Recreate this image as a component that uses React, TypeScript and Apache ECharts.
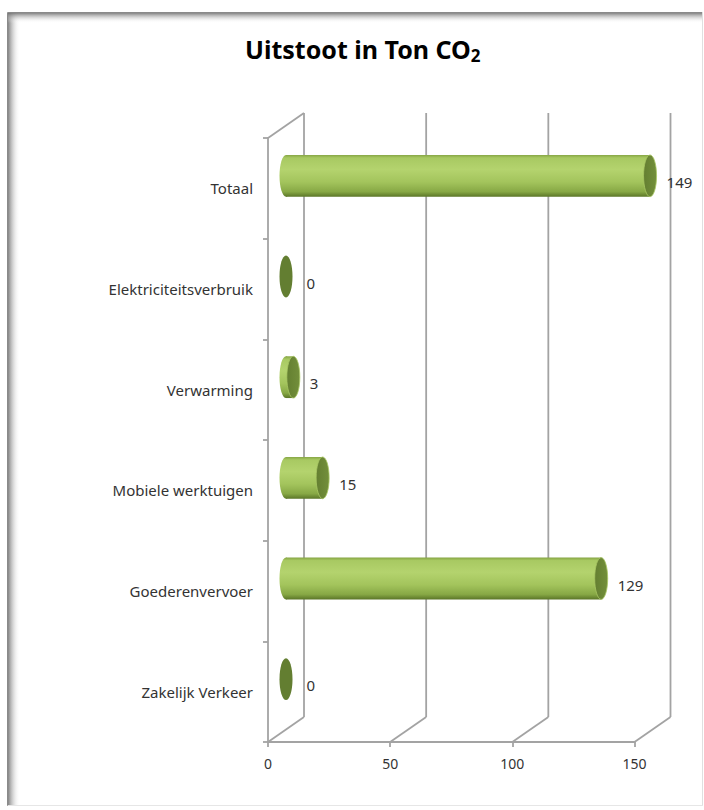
import React, { useEffect, useRef } from "react";
import * as echarts from "echarts";

const categories = [
  "Zakelijk Verkeer",
  "Goederenvervoer",
  "Mobiele werktuigen",
  "Verwarming",
  "Elektriciteitsverbruik",
  "Totaal",
];
const values = [0, 129, 15, 3, 0, 149];
const xTicks = [0, 50, 100, 150];
const titleMain = "Uitstoot in Ton CO";
const titleSub = "2";

const DEPTH_X = 36;
const DEPTH_Y = -25;
const LINE = "#a3a3a3";
const LW = 1.8;
const FONT = "'Noto Sans', 'Open Sans', sans-serif";

export default function App() {
  const ref = useRef<HTMLDivElement>(null);
  useEffect(() => {
    if (!ref.current) return;
    const chart = echarts.init(ref.current, null, { renderer: "svg" });

    const bodyGrad = () =>
      new echarts.graphic.LinearGradient(0, 0, 0, 1, [
        { offset: 0, color: "#86a544" },
        { offset: 0.07, color: "#a8c962" },
        { offset: 0.35, color: "#b4d36e" },
        { offset: 0.65, color: "#a3c45c" },
        { offset: 0.88, color: "#87a845" },
        { offset: 1, color: "#5b7628" },
      ]);

    const option: any = {
      animation: false,
      backgroundColor: "#ffffff",
      title: {
        left: 240,
        top: 29,
        text: `{a|${titleMain}}{b|${titleSub}}`,
        textStyle: {
          rich: {
            a: { fontSize: 25, fontWeight: "bold", fontFamily: FONT, color: "#000", lineHeight: 30 },
            b: { fontSize: 17, fontWeight: "bold", fontFamily: FONT, color: "#000", lineHeight: 14, verticalAlign: "bottom" },
          },
        },
      },
      graphic: [
        {
          type: "rect",
          silent: true,
          shape: { x: 8, y: 13, width: 12, height: 792 },
          style: {
            fill: new echarts.graphic.LinearGradient(0, 0, 1, 0, [
              { offset: 0, color: "rgba(110,110,110,0.85)" },
              { offset: 1, color: "rgba(255,255,255,0)" },
            ]),
          },
        },
        {
          type: "rect",
          silent: true,
          shape: { x: 8, y: 13, width: 694, height: 10 },
          style: {
            fill: new echarts.graphic.LinearGradient(0, 0, 0, 1, [
              { offset: 0, color: "rgba(110,110,110,0.85)" },
              { offset: 1, color: "rgba(255,255,255,0)" },
            ]),
          },
        },
        {
          type: "rect",
          silent: true,
          shape: { x: 7.5, y: 12.5, width: 695, height: 793 },
          style: { fill: "none", stroke: "#8a8a8a", lineWidth: 1 },
        },
        {
          type: "line",
          silent: true,
          shape: { x1: 702.5, y1: 12, x2: 702.5, y2: 806 },
          style: { stroke: "#e0e0e0", lineWidth: 1 },
        },
        {
          type: "line",
          silent: true,
          shape: { x1: 8, y1: 805.5, x2: 703, y2: 805.5 },
          style: { stroke: "#e6e6e6", lineWidth: 1 },
        },
      ],
      grid: { left: 268, top: 138, width: 366.5, height: 604, containLabel: false },
      xAxis: {
        type: "value",
        min: 0,
        max: 150,
        interval: 50,
        axisLine: { show: true, lineStyle: { color: LINE, width: LW } },
        axisTick: { show: true, length: 5, lineStyle: { color: LINE, width: LW } },
        splitLine: { show: false },
        axisLabel: { color: "#333", fontSize: 14, fontFamily: FONT, margin: 14 },
      },
      yAxis: {
        type: "category",
        data: categories,
        axisLine: { show: true, lineStyle: { color: LINE, width: LW } },
        axisTick: { show: true, length: 5, lineStyle: { color: LINE, width: LW } },
        splitLine: { show: false },
        axisLabel: { color: "#333", fontSize: 15, fontFamily: FONT, margin: 15 },
      },
      series: [
        {
          type: "custom",
          name: "walls",
          silent: true,
          clip: false,
          z: 1,
          data: xTicks.map((v) => [v, 0]),
          encode: { x: 0, y: 1 },
          renderItem: (params: any, api: any) => {
            const v = api.value(0);
            const p = api.coord([v, 0]);
            const cs = params.coordSys;
            const x = p[0];
            const bottom = cs.y + cs.height;
            const top = cs.y;
            const st = { stroke: LINE, lineWidth: LW, fill: "none" };
            const children: any[] = [
              { type: "line", shape: { x1: x, y1: bottom, x2: x + DEPTH_X, y2: bottom + DEPTH_Y }, style: st },
              { type: "line", shape: { x1: x + DEPTH_X, y1: bottom + DEPTH_Y, x2: x + DEPTH_X, y2: top + DEPTH_Y }, style: st },
            ];
            if (v === 0) {
              children.push({ type: "line", shape: { x1: x, y1: top, x2: x + DEPTH_X, y2: top + DEPTH_Y }, style: st });
            }
            return { type: "group", children };
          },
        },
        {
          type: "custom",
          name: "Uitstoot",
          clip: false,
          z: 3,
          data: values.map((v, i) => [v, i]),
          encode: { x: 0, y: 1 },
          renderItem: (params: any, api: any) => {
            const val = api.value(0);
            const cat = api.value(1);
            const s = api.coord([0, cat]);
            const e = api.coord([val, cat]);
            const band = api.size([0, 1])[1];
            const h = band * 0.415;
            const ry = h / 2;
            const rx = 6.5;
            const cx0 = s[0] + DEPTH_X / 2;
            const cx1 = e[0] + DEPTH_X / 2;
            const cy = s[1] + DEPTH_Y / 2;
            const children: any[] = [];
            if (val > 0) {
              children.push({
                type: "ellipse",
                shape: { cx: cx0, cy, rx, ry },
                style: { fill: bodyGrad() },
              });
              children.push({
                type: "rect",
                shape: { x: cx0, y: cy - ry, width: cx1 - cx0, height: h },
                style: { fill: bodyGrad() },
              });
              children.push({
                type: "ellipse",
                shape: { cx: cx1, cy, rx, ry },
                style: {
                  fill: new echarts.graphic.LinearGradient(0, 0, 1, 0, [
                    { offset: 0, color: "#647f31" },
                    { offset: 1, color: "#738f3b" },
                  ]),
                  stroke: "#a9c865",
                  lineWidth: 0.8,
                },
              });
            } else {
              children.push({
                type: "ellipse",
                shape: { cx: cx0, cy, rx, ry },
                style: { fill: "#637e31" },
              });
            }
            children.push({
              type: "text",
              style: {
                text: String(val),
                x: cx1 + rx + (val > 0 ? 10 : 14),
                y: cy + 6,
                fill: "#333",
                fontSize: 15,
                fontFamily: FONT,
                align: "left",
                verticalAlign: "middle",
              },
            });
            return { type: "group", children };
          },
        },
      ],
    };
    chart.setOption(option);
    return () => chart.dispose();
  }, []);
  return (
    <div
      ref={ref}
      style={{ position: "absolute", left: 0, top: 0, width: 704, height: 810 }}
    />
  );
}
